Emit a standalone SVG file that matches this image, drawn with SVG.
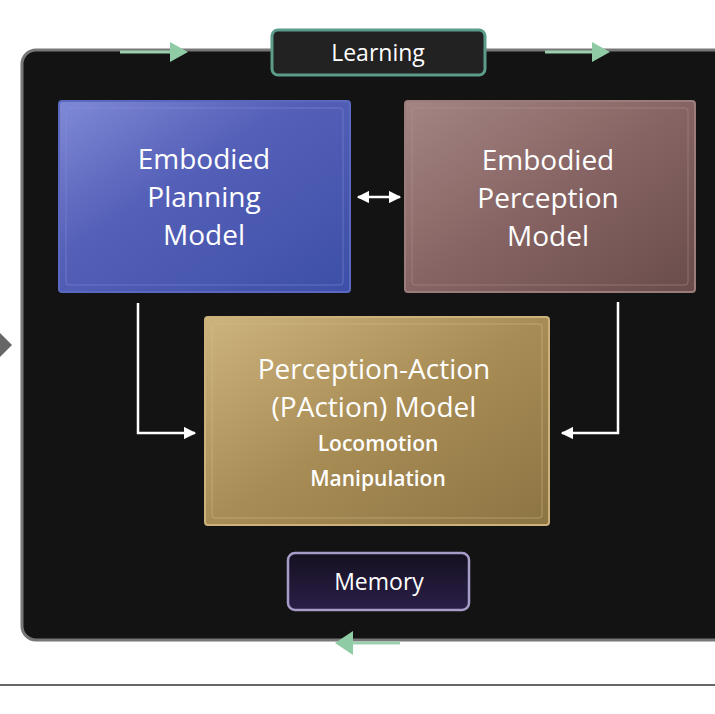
<svg xmlns="http://www.w3.org/2000/svg" width="715" height="714" viewBox="0 0 715 714">
<defs>
<linearGradient id="gBlue" x1="0" y1="0" x2="1" y2="1"><stop offset="0" stop-color="#7f8ad6"/><stop offset="0.4" stop-color="#5560b8"/><stop offset="1" stop-color="#3d4fa8"/></linearGradient>
<linearGradient id="gBrown" x1="0" y1="0" x2="1" y2="1"><stop offset="0" stop-color="#a48583"/><stop offset="0.5" stop-color="#866463"/><stop offset="1" stop-color="#6a4c4c"/></linearGradient>
<linearGradient id="gGold" x1="0" y1="0" x2="1" y2="1"><stop offset="0" stop-color="#cdb37c"/><stop offset="0.5" stop-color="#a88c55"/><stop offset="1" stop-color="#8c7443"/></linearGradient>
<linearGradient id="gMem" x1="0" y1="0" x2="0" y2="1"><stop offset="0" stop-color="#151020"/><stop offset="1" stop-color="#2a1f48"/></linearGradient>
<marker id="wa" viewBox="0 0 10 10" refX="9" refY="5" markerWidth="5" markerHeight="5" orient="auto-start-reverse"><path d="M0,0 L10,5 L0,10 z" fill="#fff"/></marker>
</defs>
<style>
.t{font-family:"Open Sans","Liberation Sans",sans-serif;fill:#fff;text-anchor:middle}
.big{font-size:28px}
.sm{font-size:21px;font-weight:600}
.lab{font-size:23px}
.wl{stroke:#fff;stroke-width:2.5;fill:none}
</style>
<rect width="715" height="714" fill="#fff"/>
<line x1="0" y1="685" x2="715" y2="685" stroke="#666" stroke-width="2"/>
<rect x="22" y="50" width="720" height="590" rx="14" fill="#131313" stroke="#777" stroke-width="3"/>
<g id="connectors">
<polygon points="0,333 12,345 0,357" fill="#666"/>
<line x1="120" y1="52" x2="175" y2="52" stroke="#9ccfae" stroke-width="3"/>
<polygon points="170,42 188,52 170,62" fill="#8fcca6"/>
<line x1="545" y1="52" x2="595" y2="52" stroke="#9ccfae" stroke-width="3"/>
<polygon points="592,42 610,52 592,62" fill="#8fcca6"/>
<line x1="350" y1="643" x2="400" y2="643" stroke="#9ccfae" stroke-width="3"/>
<polygon points="353,631 335,643 353,655" fill="#8fcca6"/>
<line x1="358" y1="197" x2="400" y2="197" class="wl" marker-start="url(#wa)" marker-end="url(#wa)"/>
<polyline points="138,303 138,433 195,433" class="wl" marker-end="url(#wa)"/>
<polyline points="618,302 618,433 562,433" class="wl" marker-end="url(#wa)"/>
</g>
<g id="learning">
<rect x="272" y="30" width="213" height="45" rx="6" fill="#222" stroke="#5c9c8a" stroke-width="3"/>
<text x="378" y="61" class="t lab">Learning</text>
</g>
<g id="planning">
<rect x="59" y="101" width="291" height="191" rx="3" fill="url(#gBlue)" stroke="#5a68c0" stroke-width="2"/>
<rect x="66" y="108" width="277" height="177" rx="3" fill="none" stroke="#8892d8" stroke-opacity="0.5"/>
<text class="t big" x="204" y="169">Embodied</text>
<text class="t big" x="204" y="207">Planning</text>
<text class="t big" x="204" y="245">Model</text>
</g>
<g id="perception">
<rect x="405" y="101" width="290" height="191" rx="3" fill="url(#gBrown)" stroke="#9a7c7a" stroke-width="2"/>
<rect x="412" y="108" width="276" height="177" rx="3" fill="none" stroke="#b09494" stroke-opacity="0.5"/>
<text class="t big" x="548" y="170">Embodied</text>
<text class="t big" x="548" y="208">Perception</text>
<text class="t big" x="548" y="246">Model</text>
</g>
<g id="paction">
<rect x="205" y="317" width="344" height="208" rx="3" fill="url(#gGold)" stroke="#cbb27c" stroke-width="2"/>
<rect x="212" y="324" width="330" height="194" rx="3" fill="none" stroke="#d6c08e" stroke-opacity="0.5"/>
<text class="t big" x="374" y="379">Perception-Action</text>
<text class="t big" x="374" y="417">(PAction) Model</text>
<text class="t sm" x="378" y="451">Locomotion</text>
<text class="t sm" x="378" y="486">Manipulation</text>
</g>
<g id="memory">
<rect x="288" y="553" width="181" height="57" rx="7" fill="url(#gMem)" stroke="#a79cc8" stroke-width="2.5"/>
<text class="t lab" x="379" y="590">Memory</text>
</g>
</svg>
